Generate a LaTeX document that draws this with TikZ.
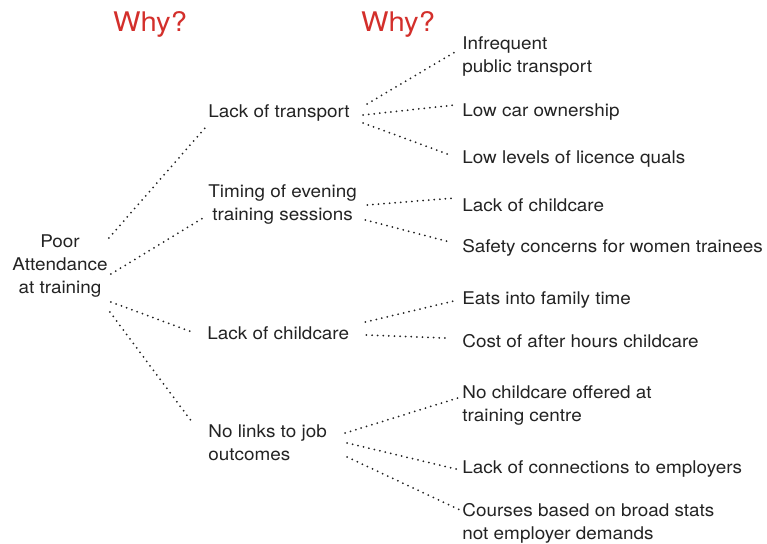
\documentclass[tikz,border=0pt]{standalone}
\usepackage{fontspec}
\setmainfont[FakeStretch=1.08]{TeX Gyre Heros}
\usepackage{xcolor}
\usepackage{tikz}
\usetikzlibrary{positioning}
\definecolor{whyred}{RGB}{211,47,43}
\definecolor{ink}{RGB}{35,35,35}
\tikzset{every picture/.style={line width=0.75pt}}
\tikzset{
  cause/.style={anchor=west,inner sep=0pt,text=ink,font=\fontsize{17.5}{23}\selectfont,align=left},
  why/.style={text=whyred,font=\fontsize{27}{30}\selectfont},
  link/.style={line width=2pt,line cap=round,dash pattern=on 0pt off 5.6pt,ink}
}

\begin{document}
\begin{tikzpicture}[x=1pt,y=-1pt]
\useasboundingbox (0,0) rectangle (767,543);
\node[why] (why1) at (150,24) {Why?};
\node[why] (why2) at (398,24) {Why?};
%
\node[cause,anchor=center,align=center] (poor) at (60,266) {Poor\\Attendance\\at training};
%
\node[cause] (transport) at (208,113) {Lack of transport};
\node[cause,align=center] (timing) at (208,204.5) {Timing of evening\\training sessions};
\node[cause] (childcare) at (207,333) {Lack of childcare};
\node[cause] (joblinks) at (208,442.5) {No links to job\\outcomes};
%
\node[cause] (infrequent) at (462,56.5) {Infrequent\\public transport};
\node[cause] (lowcar) at (462,112) {Low car ownership};
\node[cause] (licence) at (462,159) {Low levels of licence quals};
\node[cause] (nocare) at (462,205) {Lack of childcare};
\node[cause] (safety) at (462,248) {Safety concerns for women trainees};
\node[cause] (family) at (462,300) {Eats into family time};
\node[cause] (cost) at (462,341) {Cost of after hours childcare};
\node[cause] (offered) at (462,405.5) {No childcare offered at\\training centre};
\node[cause] (employers) at (462,469) {Lack of connections to employers};
\node[cause] (courses) at (462,523.5) {Courses based on broad stats\\not employer demands};
%
\draw[link] ([xshift=1pt,yshift=28pt]poor.east) -- ([xshift=-3pt,yshift=-15pt]transport.west);
\draw[link] ([xshift=3pt,yshift=-8pt]poor.east) -- ([xshift=-5pt,yshift=-13.5pt]timing.west);
\draw[link] ([xshift=3pt,yshift=-36pt]poor.east) -- ([xshift=-15pt,yshift=1pt]childcare.west);
\draw[link] ([xshift=2pt,yshift=-46pt]poor.east) -- ([xshift=-16pt,yshift=20.5pt]joblinks.west);
%
\draw[link] ([xshift=17pt,yshift=9pt]transport.east) -- ([xshift=-7pt,yshift=4.5pt]infrequent.west);
\draw[link] ([xshift=13pt,yshift=-2pt]transport.east) -- ([xshift=-7pt,yshift=7pt]lowcar.west);
\draw[link] ([xshift=13pt,yshift=-10pt]transport.east) -- ([xshift=-12pt,yshift=4pt]licence.west);
\draw[link] ([xshift=10pt,yshift=-0.5pt]timing.east) -- ([xshift=-7pt,yshift=7pt]nocare.west);
\draw[link] ([xshift=8pt,yshift=-15.5pt]timing.east) -- ([xshift=-12pt,yshift=6pt]safety.west);
\draw[link] ([xshift=16pt,yshift=11pt]childcare.east) -- ([xshift=-4pt,yshift=0pt]family.west);
\draw[link] ([xshift=17pt,yshift=-2pt]childcare.east) -- ([xshift=-17pt,yshift=3pt]cost.west);
\draw[link] ([xshift=18pt,yshift=9.5pt]joblinks.east) -- ([xshift=-4pt,yshift=7.5pt]offered.west);
\draw[link] ([xshift=20pt,yshift=-0.5pt]joblinks.east) -- ([xshift=-2pt,yshift=-1pt]employers.west);
\draw[link] ([xshift=20pt,yshift=-14.5pt]joblinks.east) -- ([xshift=-2pt,yshift=13.5pt]courses.west);
\end{tikzpicture}
\end{document}
